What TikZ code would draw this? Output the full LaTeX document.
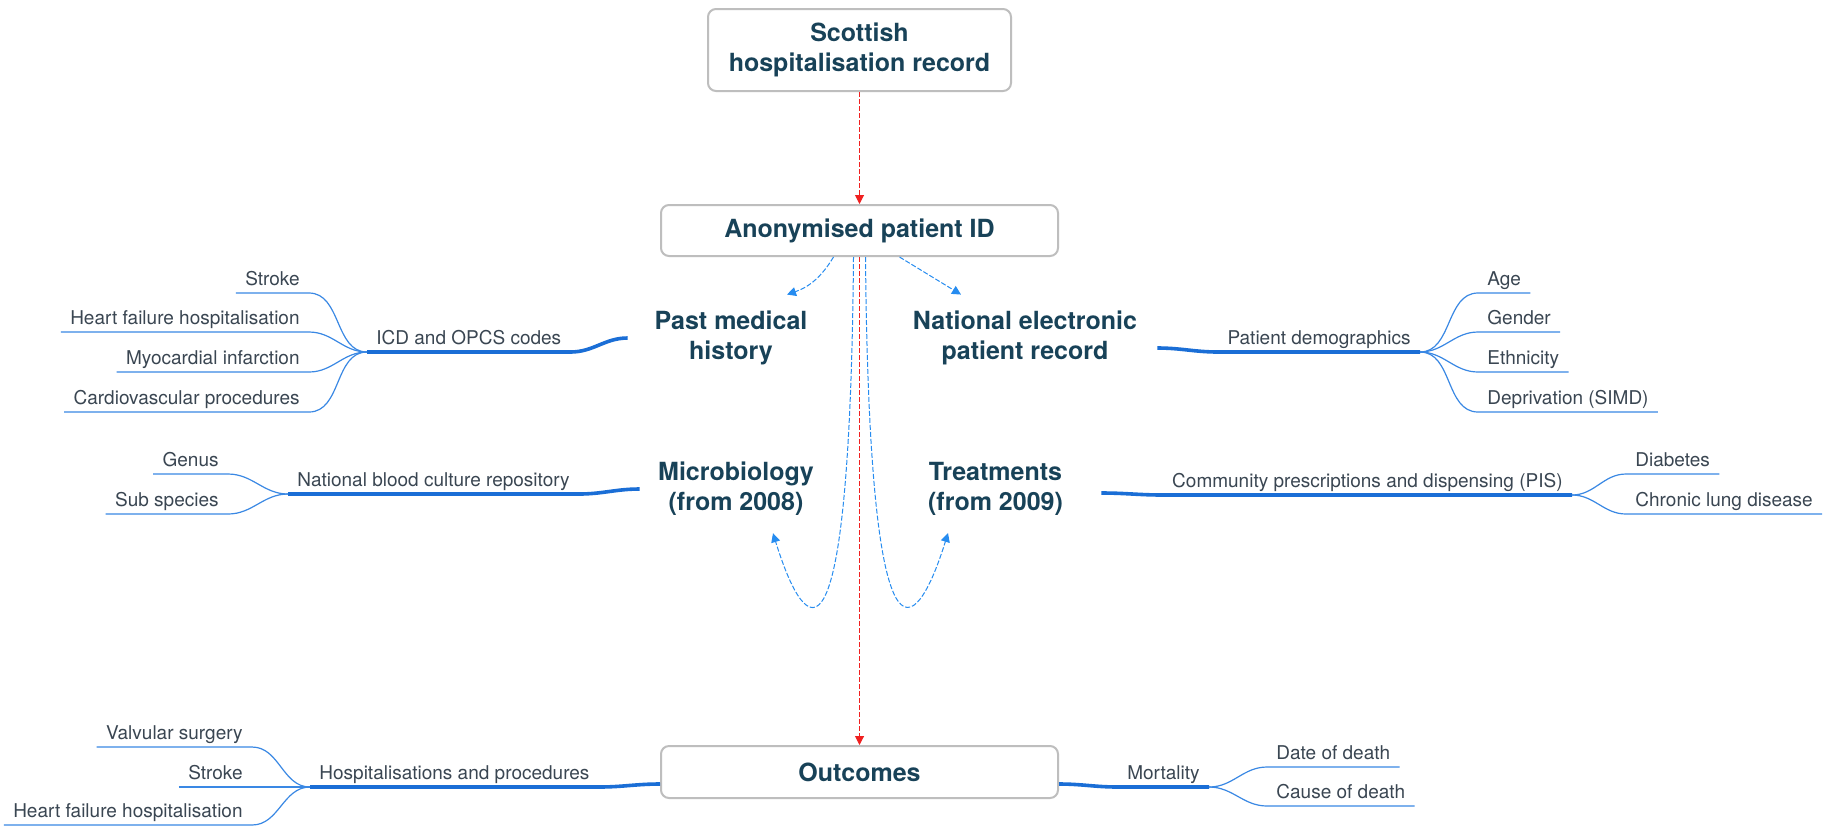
\documentclass[tikz,border=0pt]{standalone}
\usepackage{fontspec}
\setmainfont{TeX Gyre Heros}
\usepackage{tikz}
\usetikzlibrary{arrows.meta,positioning,calc}
\definecolor{titlecol}{RGB}{24,66,88}
\definecolor{leafcol}{RGB}{58,70,82}
\definecolor{boxline}{RGB}{190,190,190}
\definecolor{thickblue}{RGB}{26,110,214}
\definecolor{thinblue}{RGB}{58,136,228}
\definecolor{dashblue}{RGB}{38,140,240}
\definecolor{dashred}{RGB}{240,32,32}
\tikzset{
  box/.style     ={draw=boxline, line width=1pt, rounded corners=4pt, fill=white, align=center,
                   font=\bfseries\fontsize{12.5}{15}\selectfont, text=titlecol},
  topic/.style   ={align=center, font=\bfseries\fontsize{12.5}{15}\selectfont, text=titlecol, inner xsep=0pt, inner ysep=4pt},
  lbl/.style     ={font=\fontsize{9.5}{11}\selectfont, text=leafcol, inner xsep=4.5pt, inner ysep=0pt,
                   text height=7pt, text depth=3.5pt},
  leaf/.style    ={draw=thinblue, line width=0.6pt},
  branch/.style  ={draw=thickblue, line width=1.8pt},
  redflow/.style ={-{Triangle[length=4.5pt,width=4.5pt]}, draw=dashred, line width=0.5pt, dash pattern=on 2.5pt off 1pt},
  blueflow/.style={-{Triangle[length=4.5pt,width=4.5pt]}, draw=dashblue, line width=0.5pt, dash pattern=on 2.5pt off 1pt}
}
\begin{document}
\begin{tikzpicture}[x=0.5pt,y=-0.5pt]
  \path[use as bounding box, fill=white] (0,0) rectangle (1829,826);
  % record boxes
  \node[box, minimum width=151.5pt, minimum height=41pt] (shr) at (859.5,50) {Scottish\\hospitalisation record};
  \node[box, minimum width=198.5pt, minimum height=25.5pt] (anon) at (859.5,230.5) {Anonymised patient ID};
  \node[box, minimum width=198.5pt, minimum height=26pt] (out) at (859.5,772) {Outcomes};
  % data sources
  \node[topic, minimum width=103pt] (pmh) at (731,338) {Past medical\\history};
  \node[topic, minimum width=132pt] (nat) at (1025,338) {National electronic\\patient record};
  \node[topic, minimum width=96pt] (mic) at (736,489) {Microbiology\\(from 2008)};
  \node[topic, minimum width=105.5pt] (trt) at (995.5,489) {Treatments\\(from 2009)};
  % second level
  \node[lbl, anchor=south west] (icd)  at (367,352)  {ICD and OPCS codes};
  \node[lbl, anchor=south east] (dem)  at (1420,352) {Patient demographics};
  \node[lbl, anchor=south west] (ncr)  at (288,494)  {National blood culture repository};
  \node[lbl, anchor=south east] (pis)  at (1572,495) {Community prescriptions and dispensing (PIS)};
  \node[lbl, anchor=south west] (hosp) at (310,787)  {Hospitalisations and procedures};
  \node[lbl, anchor=south east] (mort) at (1209,787) {Mortality};
  % leaves, left side
  \node[lbl, anchor=south east] (strk1) at (309,293) {Stroke};
  \node[lbl, anchor=south east] (hfh1)  at (309,332) {Heart failure hospitalisation};
  \node[lbl, anchor=south east] (mi)    at (309,372) {Myocardial infarction};
  \node[lbl, anchor=south east] (cvp)   at (309,412) {Cardiovascular procedures};
  \node[lbl, anchor=south east] (gen)   at (228,474) {Genus};
  \node[lbl, anchor=south east] (sub)   at (228,514) {Sub species};
  \node[lbl, anchor=south east] (valv)  at (252,747) {Valvular surgery};
  \node[lbl, anchor=south east] (strk2) at (252,787) {Stroke};
  \node[lbl, anchor=south east] (hfh2)  at (252,825) {Heart failure hospitalisation};
  % leaves, right side
  \node[lbl, anchor=south west] (age)   at (1478,293) {Age};
  \node[lbl, anchor=south west] (gend)  at (1478,332) {Gender};
  \node[lbl, anchor=south west] (eth)   at (1478,372) {Ethnicity};
  \node[lbl, anchor=south west] (simd)  at (1478,412) {Deprivation (SIMD)};
  \node[lbl, anchor=south west] (diab)  at (1626,474) {Diabetes};
  \node[lbl, anchor=south west] (clung) at (1626,514) {Chronic lung disease};
  \node[lbl, anchor=south west] (dod)   at (1267,767) {Date of death};
  \node[lbl, anchor=south west] (cod)   at (1267,806) {Cause of death};
  % thick branches
  \draw[branch] (icd.south west) -- (icd.south east) to[out=0,in=180] (pmh.west);
  \draw[branch] (ncr.south west) -- (ncr.south east) to[out=0,in=180] (mic.west);
  \draw[branch] (hosp.south west) -- (hosp.south east) to[out=0,in=180] ([yshift=-6pt]out.west);
  \draw[branch] ([yshift=-5pt]nat.east) to[out=0,in=180] (dem.south west) -- (dem.south east);
  \draw[branch] ([yshift=-2pt]trt.east) to[out=0,in=180] (pis.south west) -- (pis.south east);
  \draw[branch] ([yshift=-6pt]out.east) to[out=0,in=180] (mort.south west) -- (mort.south east);
  % thin leaf links
  \foreach \n in {strk1,hfh1,mi,cvp}
    \draw[leaf] (\n.south west) -- (\n.south east) to[out=0,in=180] (icd.south west);
  \foreach \n in {gen,sub}
    \draw[leaf] (\n.south west) -- (\n.south east) to[out=0,in=180] (ncr.south west);
  \foreach \n in {valv,strk2,hfh2}
    \draw[leaf] (\n.south west) -- (\n.south east) to[out=0,in=180] (hosp.south west);
  \foreach \n in {age,gend,eth,simd}
    \draw[leaf] (dem.south east) to[out=0,in=180] (\n.south west) -- (\n.south east);
  \foreach \n in {diab,clung}
    \draw[leaf] (pis.south east) to[out=0,in=180] (\n.south west) -- (\n.south east);
  \foreach \n in {dod,cod}
    \draw[leaf] (mort.south east) to[out=0,in=180] (\n.south west) -- (\n.south east);
  % linkage
  \draw[redflow] (shr) -- (anon);
  \draw[redflow] (anon) -- (out);
  \draw[blueflow] ([xshift=-13pt]anon.south) to[bend left=20] ([xshift=28pt,yshift=4pt]pmh.north);
  \draw[blueflow] ([xshift=20pt]anon.south) -- ([xshift=-32pt,yshift=4pt]nat.north);
  \draw[blueflow] ([xshift=-3pt]anon.south) .. controls +(-4,459) and +(27,87) .. ([xshift=18.5pt,yshift=-4.5pt]mic.south);
  \draw[blueflow] ([xshift=3pt]anon.south) .. controls +(4,459) and +(-27,87) .. ([xshift=-23.75pt,yshift=-4.5pt]trt.south);
\end{tikzpicture}
\end{document}
